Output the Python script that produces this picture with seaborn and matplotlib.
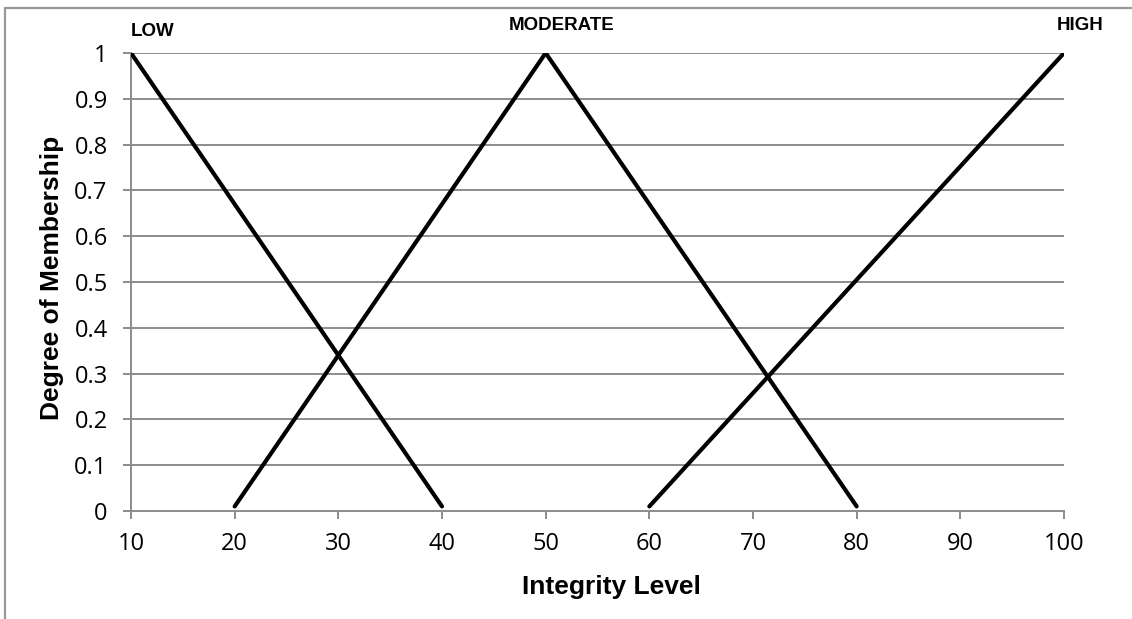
import matplotlib
matplotlib.use("Agg")
import matplotlib.pyplot as plt
import seaborn as sns
import pandas as pd
from matplotlib.patches import Rectangle

# Membership function vertices
low_x = [10, 40]
low_y = [1.0, 0.01]
moderate_x = [20, 50, 80]
moderate_y = [0.01, 1.0, 0.01]
high_x = [60, 100]
high_y = [0.01, 1.0]

set_names = ["LOW", "MODERATE", "HIGH"]
x_ticks = [10, 20, 30, 40, 50, 60, 70, 80, 90, 100]
y_ticks = [0, 0.1, 0.2, 0.3, 0.4, 0.5, 0.6, 0.7, 0.8, 0.9, 1]

df = pd.concat([
    pd.DataFrame({"level": low_x, "membership": low_y, "set": "LOW"}),
    pd.DataFrame({"level": moderate_x, "membership": moderate_y, "set": "MODERATE"}),
    pd.DataFrame({"level": high_x, "membership": high_y, "set": "HIGH"}),
])

sns.set_theme(style="white")
plt.rcParams["font.family"] = ["Liberation Sans", "DejaVu Sans"]
plt.rcParams["text.color"] = "black"
plt.rcParams["axes.labelcolor"] = "black"

fig = plt.figure(figsize=(11.32, 6.19), dpi=100)
ax = fig.add_axes([131 / 1132, 1 - 511 / 619, (1064 - 131) / 1132, (511 - 53) / 619])

grid_c = "#8c8c8c"
for yv in y_ticks[1:]:
    ax.axhline(yv, color=grid_c, lw=1.4, zorder=1)

sns.lineplot(data=df, x="level", y="membership", units="set", estimator=None,
             sort=False, color="black", lw=3.0, ax=ax, zorder=3, legend=False)

ax.set_xlim(10, 100)
ax.set_ylim(0, 1)
ax.set_xticks(x_ticks)
ax.set_yticks(y_ticks)
tick_font = ["Open Sans", "DejaVu Sans"]
ax.set_xticklabels([str(v) for v in x_ticks], family=tick_font, fontsize=17)
ax.set_yticklabels([f"{v:g}" for v in y_ticks], family=tick_font, fontsize=17)

for side in ["top", "right"]:
    ax.spines[side].set_visible(False)
for side in ["left", "bottom"]:
    ax.spines[side].set_color(grid_c)
    ax.spines[side].set_linewidth(1.4)

ax.tick_params(axis="x", direction="out", length=5.8, width=1.4, color=grid_c,
               bottom=True, pad=9, labelcolor="black")
ax.tick_params(axis="y", direction="out", length=5.8, width=1.4, color=grid_c,
               left=True, pad=11, labelcolor="black")

ax.set_xlabel("Integrity Level", fontsize=19, fontweight="bold")
ax.set_ylabel("Degree of Membership", fontsize=19, fontweight="bold")
ax.xaxis.set_label_coords((611 - 131) / 933, (511 - 587) / 458)
ax.xaxis.label.set_va("center")
ax.yaxis.set_label_coords((52 - 131) / 933, 0.509)
ax.yaxis.label.set_va("center")

# Fuzzy set names above the peaks
label_pos = {"LOW": (10.0, 1.048, "left"), "MODERATE": (51.5, 1.059, "center"),
             "HIGH": (101.6, 1.059, "center")}
for name in set_names:
    x, y, ha = label_pos[name]
    ax.text(x, y, name, fontsize=13.5, fontweight="bold", ha=ha, va="center",
            clip_on=False)

# Outer chart frame
fig.patches.append(Rectangle((5 / 1132, -0.05), 1.2, 1 - 8 / 619 + 0.05,
                             transform=fig.transFigure, fill=False,
                             edgecolor="#999999", lw=1.6))

fig.savefig("out.png", dpi=100)
